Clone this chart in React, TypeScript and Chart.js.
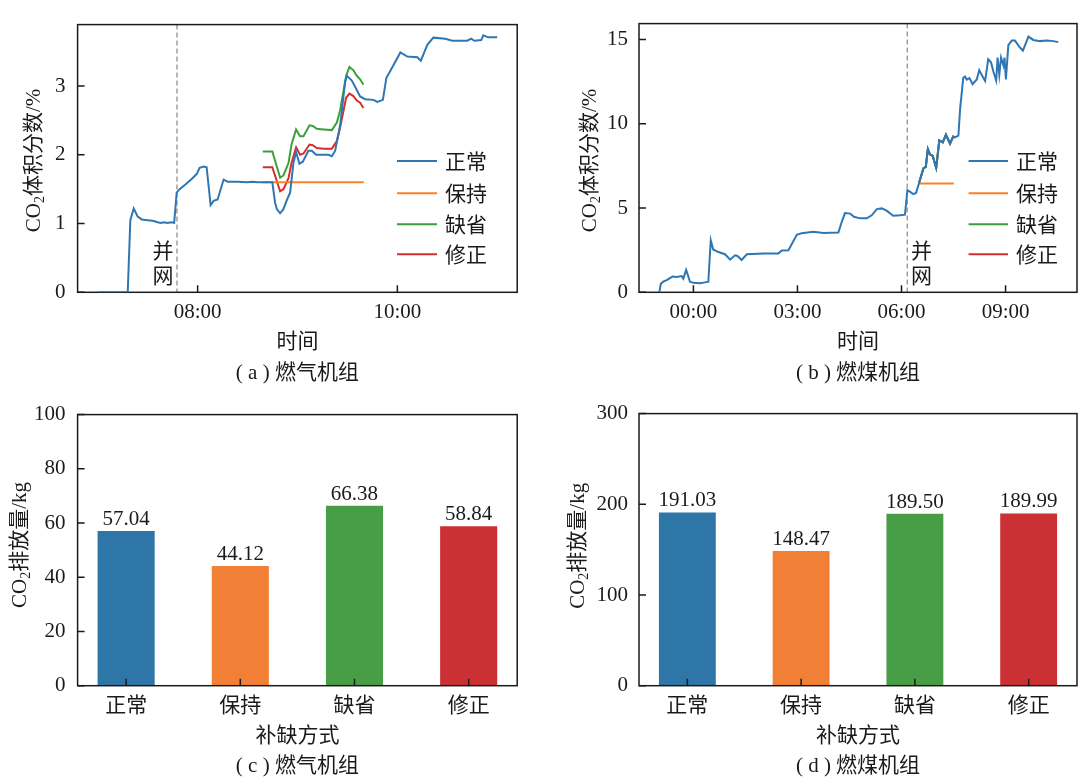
import React, { useEffect, useRef } from "react";
import { Chart, registerables } from "chart.js";

Chart.register(...registerables);

const FONT = '"Liberation Serif", "Times New Roman", "Noto Sans CJK SC", serif';
const INK = "#1a1a1a";
const FS = 21;

// Gap-filling methods shared by all four panels
const methods = ["正常", "保持", "缺省", "修正"];
const lineColors = ["#2f77b4", "#fd8023", "#3ba03a", "#d42f2e"];
const barColors = ["#2e75a8", "#f17f35", "#489e47", "#cb3035"];

// (a) gas-fired unit: CO2 volume fraction (%), time in hours of day
const gasNormalT = [
  7.0, 7.3, 7.326, 7.36, 7.4, 7.44, 7.5, 7.55, 7.6, 7.63, 7.66, 7.7, 7.73, 7.765, 7.79, 7.82, 7.886, 7.94, 7.99,
  8.02, 8.06, 8.09, 8.13, 8.16, 8.2, 8.26, 8.3, 8.4, 8.5, 8.55, 8.6, 8.652, 8.748, 8.776, 8.793, 8.826, 8.859,
  8.893, 8.926, 8.959, 8.986, 9.019, 9.053, 9.109, 9.143, 9.186, 9.31, 9.344, 9.377, 9.427, 9.477, 9.494, 9.544,
  9.577, 9.627, 9.677, 9.76, 9.8, 9.855, 9.89, 9.94, 10.03, 10.1, 10.2, 10.235, 10.3, 10.36, 10.48, 10.55, 10.7,
  10.74, 10.77, 10.84, 10.86, 10.91, 11.0,
];
const gasNormalV = [
  0, 0, 1.05, 1.22, 1.1, 1.06, 1.05, 1.04, 1.02, 1.01, 1.02, 1.01, 1.02, 1.01, 1.45, 1.5, 1.58, 1.65, 1.72,
  1.81, 1.83, 1.82, 1.27, 1.33, 1.35, 1.64, 1.61, 1.61, 1.6, 1.61, 1.6, 1.6, 1.6, 1.3, 1.21, 1.15, 1.21,
  1.34, 1.45, 1.88, 2.04, 1.87, 1.9, 2.06, 2.06, 2.0, 2.0, 1.98, 2.06, 2.43, 3.06, 3.15, 3.08,
  2.99, 2.85, 2.81, 2.8, 2.77, 2.8, 3.12, 3.25, 3.49, 3.43, 3.42, 3.37, 3.6, 3.705, 3.69, 3.66, 3.66,
  3.69, 3.66, 3.67, 3.74, 3.71, 3.71,
];
const gasHoldT = [8.652, 9.664];
const gasHoldV = [1.6, 1.6];
const gasPatchT = [
  8.652, 8.748, 8.826, 8.859, 8.91, 8.94, 8.986, 9.026, 9.06, 9.12, 9.153, 9.193, 9.26, 9.344, 9.394, 9.427,
  9.487, 9.52, 9.56, 9.594, 9.627, 9.66,
];
const gasDefaultV = [
  2.05, 2.05, 1.667, 1.7, 1.88, 2.15, 2.37, 2.27, 2.27, 2.43, 2.42, 2.38, 2.37, 2.36, 2.47, 2.65,
  3.15, 3.28, 3.23, 3.15, 3.1, 3.02,
];
const gasFixedV = [
  1.82, 1.82, 1.47, 1.5, 1.66, 1.88, 2.11, 2.0, 2.02, 2.15, 2.14, 2.1, 2.09, 2.09, 2.2, 2.4,
  2.83, 2.89, 2.855, 2.79, 2.76, 2.68,
];
const gasGridHour = 7.793;
const gasTimeTicks = [8, 10];
const gasTimeLabels = ["08:00", "10:00"];
const gasYTicks = [0, 1, 2, 3];

// (b) coal-fired unit: CO2 volume fraction (%), hours relative to midnight
const coalNormalT = [
  -0.983, -0.94, -0.87, -0.77, -0.69, -0.6, -0.48, -0.34, -0.29, -0.21,
  -0.18, -0.1, 0.0, 0.19, 0.33, 0.43, 0.5, 0.57, 0.72, 0.91,
  1.06, 1.2, 1.27, 1.39, 1.54, 2.02, 2.45, 2.55, 2.74, 2.98,
  3.12, 3.46, 3.75, 4.18, 4.28, 4.37, 4.52, 4.63, 4.8, 5.0,
  5.14, 5.29, 5.43, 5.57, 5.76, 5.96, 6.1, 6.17, 6.25, 6.34,
  6.42, 6.51, 6.63, 6.7, 6.76, 6.82, 6.9, 7.0, 7.09, 7.19,
  7.28, 7.4, 7.49, 7.54, 7.64, 7.69, 7.73, 7.78, 7.83, 7.88,
  7.96, 8.05, 8.17, 8.24, 8.31, 8.41, 8.5, 8.58, 8.65, 8.73,
  8.77, 8.82, 8.87, 8.94, 8.97, 9.01, 9.08, 9.18, 9.27, 9.4,
  9.5, 9.66, 9.8, 9.99, 10.19, 10.38, 10.52,
];
const coalNormalV = [
  0, 0.5, 0.63, 0.72, 0.83, 0.94, 0.91, 0.96, 0.81, 1.33,
  1.15, 0.63, 0.56, 0.54, 0.59, 0.63, 3.09, 2.54, 2.39, 2.26,
  1.94, 2.2, 2.16, 1.92, 2.26, 2.31, 2.31, 2.48, 2.5, 3.41,
  3.5, 3.59, 3.52, 3.55, 4.2, 4.7, 4.67, 4.48, 4.39, 4.39,
  4.57, 4.94, 4.98, 4.85, 4.54, 4.57, 4.61, 6.06, 5.96, 5.83,
  5.9, 6.52, 7.35, 7.44, 8.5, 8.19, 8.09, 7.39, 9.02, 8.9,
  9.35, 8.83, 9.24, 9.2, 9.3, 10.9, 11.7, 12.72, 12.81, 12.63,
  12.72, 12.35, 12.63, 13.18, 12.91, 12.54, 13.83, 13.65, 13.09, 12.57,
  13.93, 12.91, 13.93, 13.46, 13.93, 12.63, 14.67, 14.94, 14.94, 14.57,
  14.35, 15.18, 14.98, 14.91, 14.94, 14.91, 14.85,
];
const coalHoldT = [6.51, 7.51];
const coalHoldV = [6.46, 6.46];
const coalPatchT = [6.51, 6.63, 6.7, 6.76, 6.82, 6.9, 7.0, 7.09, 7.19, 7.28, 7.4, 7.49, 7.54];
const coalDefaultV = [6.52, 7.35, 7.44, 8.5, 8.19, 8.09, 7.39, 9.02, 8.9, 9.35, 8.83, 9.24, 9.2];
const coalFixedV = [6.52, 7.35, 7.44, 8.5, 8.19, 8.09, 7.39, 9.02, 8.9, 9.35, 8.83, 9.24, 9.2];
const coalGridHour = 6.165;
const coalTimeTicks = [0, 3, 6, 9];
const coalTimeLabels = ["00:00", "03:00", "06:00", "09:00"];
const coalYTicks = [0, 5, 10, 15];

// (c), (d) total CO2 emission (kg) per gap-filling method
const gasEmission = [57.04, 44.12, 66.38, 58.84];
const coalEmission = [191.03, 148.47, 189.5, 189.99];
const gasEmissionTicks = [0, 20, 40, 60, 80, 100];
const coalEmissionTicks = [0, 100, 200, 300];

type Area = { l: number; t: number; r: number; b: number };
type Spec = {
  width: number;
  height: number;
  area: Area;
  yTitle: string;
  yTitleAt: [number, number];
  xTitle: string;
  xTitleY: number;
  caption: string;
  captionY: number;
  yPad: number;
  xPad: number;
  frameOnTop?: boolean;
  legend?: { x: number; len: number; textX: number; ys: number[] };
  marker?: { hour: number; textX: number; ys: number[] };
  barValues?: number[];
};

function drawYTitle(ctx: CanvasRenderingContext2D, rest: string, cx: number, cy: number) {
  ctx.save();
  ctx.translate(cx, cy);
  ctx.rotate(-Math.PI / 2);
  const big = `${FS}px ${FONT}`;
  const small = `14px ${FONT}`;
  ctx.font = big;
  const w1 = ctx.measureText("CO").width;
  const w3 = ctx.measureText(rest).width;
  ctx.font = small;
  const w2 = ctx.measureText("2").width;
  let x = -(w1 + w2 + w3) / 2;
  ctx.fillStyle = INK;
  ctx.textAlign = "left";
  ctx.textBaseline = "middle";
  ctx.font = big;
  ctx.fillText("CO", x, 0);
  x += w1;
  ctx.font = small;
  ctx.fillText("2", x, 6);
  x += w2;
  ctx.font = big;
  ctx.fillText(rest, x, 0);
  ctx.restore();
}

function decoPlugin(spec: Spec) {
  const drawFrame = (chart: any) => {
    const { ctx, chartArea: a } = chart;
    ctx.save();
    ctx.strokeStyle = INK;
    ctx.lineWidth = 1.5;
    ctx.strokeRect(a.left, a.top, a.right - a.left, a.bottom - a.top);
    ctx.restore();
  };
  return {
    id: "deco",
    beforeDatasetsDraw(chart: any) {
      const { ctx, chartArea: a, scales } = chart;
      if (spec.marker) {
        const x = scales.x.getPixelForValue(spec.marker.hour);
        ctx.save();
        ctx.strokeStyle = "#9a9a9a";
        ctx.lineWidth = 1.4;
        ctx.setLineDash([5, 3]);
        ctx.beginPath();
        ctx.moveTo(x, a.top);
        ctx.lineTo(x, a.bottom);
        ctx.stroke();
        ctx.restore();
      }
      if (!spec.frameOnTop) drawFrame(chart);
    },
    afterDatasetsDraw(chart: any) {
      const { ctx, chartArea: a, scales } = chart;
      if (spec.frameOnTop) drawFrame(chart);
      ctx.save();
      ctx.strokeStyle = INK;
      ctx.lineWidth = 1.5;
      ctx.beginPath();
      for (const t of scales.x.ticks) {
        const x = scales.x.getPixelForValue(t.value);
        ctx.moveTo(x, a.bottom);
        ctx.lineTo(x, a.bottom - 7);
      }
      for (const t of scales.y.ticks) {
        const y = scales.y.getPixelForValue(t.value);
        ctx.moveTo(a.left, y);
        ctx.lineTo(a.left + 7, y);
      }
      ctx.stroke();
      if (spec.barValues) {
        const meta = chart.getDatasetMeta(0);
        ctx.fillStyle = INK;
        ctx.font = `${FS}px ${FONT}`;
        ctx.textAlign = "center";
        ctx.textBaseline = "alphabetic";
        spec.barValues.forEach((v, i) => {
          const el = meta.data[i];
          ctx.fillText(v.toFixed(2), el.x, el.y - 6);
        });
      }
      ctx.restore();
    },
    afterDraw(chart: any) {
      const { ctx, chartArea: a } = chart;
      const cx = (a.left + a.right) / 2;
      drawYTitle(ctx, spec.yTitle, spec.yTitleAt[0], spec.yTitleAt[1]);
      ctx.save();
      ctx.fillStyle = INK;
      ctx.font = `${FS}px ${FONT}`;
      ctx.textAlign = "center";
      ctx.textBaseline = "middle";
      ctx.fillText(spec.xTitle, cx, spec.xTitleY);
      ctx.fillText(spec.caption, cx, spec.captionY);
      if (spec.marker) {
        ctx.fillText("并", spec.marker.textX, spec.marker.ys[0]);
        ctx.fillText("网", spec.marker.textX, spec.marker.ys[1]);
      }
      if (spec.legend) {
        const lg = spec.legend;
        methods.forEach((name, i) => {
          const y = lg.ys[i];
          ctx.strokeStyle = lineColors[i];
          ctx.lineWidth = 2;
          ctx.beginPath();
          ctx.moveTo(lg.x, y);
          ctx.lineTo(lg.x + lg.len, y);
          ctx.stroke();
          ctx.textAlign = "left";
          ctx.fillText(name, lg.textX, y + 2);
        });
      }
      ctx.restore();
    },
  };
}

function xAxis(spec: Spec, min: number, max: number, ticks: number[], labels: string[]) {
  return {
    type: "linear",
    min,
    max,
    offset: false,
    grid: { display: false, drawTicks: false },
    border: { display: false },
    ticks: {
      font: { family: FONT, size: FS },
      color: INK,
      padding: spec.xPad,
      autoSkip: false,
      maxRotation: 0,
      callback: (_v: number, i: number) => labels[i],
    },
    afterBuildTicks: (s: any) => {
      s.ticks = ticks.map((value) => ({ value }));
    },
    afterFit: (s: any) => {
      s.height = spec.height - spec.area.b;
    },
  };
}

function yAxis(spec: Spec, max: number, ticks: number[]) {
  return {
    type: "linear",
    min: 0,
    max,
    grid: { display: false, drawTicks: false },
    border: { display: false },
    ticks: {
      font: { family: FONT, size: FS },
      color: INK,
      padding: spec.yPad,
      callback: (v: number) => String(v),
    },
    afterBuildTicks: (s: any) => {
      s.ticks = ticks.map((value) => ({ value }));
    },
    afterFit: (s: any) => {
      s.width = spec.area.l;
    },
  };
}

function baseOptions(spec: Spec, x: any, y: any) {
  return {
    responsive: false,
    animation: false,
    devicePixelRatio: 1,
    events: [],
    layout: { padding: { left: 0, top: spec.area.t, right: spec.width - spec.area.r, bottom: 0 } },
    plugins: { legend: { display: false }, tooltip: { enabled: false } },
    scales: { x, y },
  };
}

function series(t: number[], v: number[], color: string, width = 2) {
  return {
    data: t.map((x, i) => ({ x, y: v[i] })),
    borderColor: color,
    backgroundColor: color,
    borderWidth: width,
    pointRadius: 0,
    tension: 0,
    fill: false,
  };
}

const specA: Spec = {
  width: 540,
  height: 390,
  area: { l: 77.6, t: 5, r: 517.2, b: 292.3 },
  yTitle: "体积分数/%",
  yTitleAt: [34.5, 160.5],
  xTitle: "时间",
  xTitleY: 342,
  caption: "( a ) 燃气机组",
  captionY: 373,
  yPad: 12,
  xPad: 8,
  legend: { x: 397, len: 40, textX: 445, ys: [161, 193.3, 224.3, 254.3] },
  marker: { hour: gasGridHour, textX: 163, ys: [252.5, 277.7] },
};

const specB: Spec = {
  width: 541,
  height: 390,
  area: { l: 99, t: 5, r: 537, b: 292.3 },
  yTitle: "体积分数/%",
  yTitleAt: [50, 160.5],
  xTitle: "时间",
  xTitleY: 342,
  caption: "( b ) 燃煤机组",
  captionY: 373,
  yPad: 11,
  xPad: 8,
  legend: { x: 428.6, len: 39.4, textX: 476, ys: [161, 193.3, 224.3, 254.3] },
  marker: { hour: coalGridHour, textX: 381.5, ys: [252.5, 277.7] },
};

const specC: Spec = {
  width: 540,
  height: 389,
  area: { l: 77.6, t: 8.3, r: 517.2, b: 295.7 },
  yTitle: "排放量/kg",
  yTitleAt: [20.7, 155],
  xTitle: "补缺方式",
  xTitleY: 346,
  caption: "( c ) 燃气机组",
  captionY: 376.7,
  yPad: 12,
  xPad: 8,
  frameOnTop: true,
  barValues: gasEmission,
};

const specD: Spec = {
  width: 541,
  height: 389,
  area: { l: 99, t: 8.3, r: 537, b: 295.7 },
  yTitle: "排放量/kg",
  yTitleAt: [38.8, 155.8],
  xTitle: "补缺方式",
  xTitleY: 346,
  caption: "( d ) 燃煤机组",
  captionY: 376.7,
  yPad: 11,
  xPad: 8,
  frameOnTop: true,
  barValues: coalEmission,
};

function lineConfig(
  spec: Spec,
  normal: [number[], number[]],
  hold: [number[], number[]],
  patchT: number[],
  defV: number[],
  fixV: number[],
  xRange: [number, number],
  xTicks: number[],
  xLabels: string[],
  yMax: number,
  yTicks: number[],
) {
  return {
    type: "line",
    data: {
      datasets: [
        series(normal[0], normal[1], lineColors[0]),
        series(hold[0], hold[1], lineColors[1]),
        series(patchT, defV, lineColors[2]),
        series(patchT, fixV, lineColors[3]),
      ],
    },
    options: baseOptions(spec, xAxis(spec, xRange[0], xRange[1], xTicks, xLabels), yAxis(spec, yMax, yTicks)),
    plugins: [decoPlugin(spec)],
  };
}

function barConfig(spec: Spec, values: number[], yMax: number, yTicks: number[]) {
  return {
    type: "bar",
    data: {
      datasets: [
        {
          data: values.map((y, x) => ({ x, y })),
          backgroundColor: barColors,
          borderWidth: 0,
          barPercentage: 0.5,
          categoryPercentage: 1,
        },
      ],
    },
    options: baseOptions(
      spec,
      xAxis(spec, -0.425, 3.425, methods.map((_, i) => i), methods),
      yAxis(spec, yMax, yTicks),
    ),
    plugins: [decoPlugin(spec)],
  };
}

function Panel({ left, top, spec, build }: { left: number; top: number; spec: Spec; build: () => any }) {
  const ref = useRef<HTMLCanvasElement>(null);
  useEffect(() => {
    const chart = new Chart(ref.current as HTMLCanvasElement, build());
    return () => chart.destroy();
  }, []);
  return (
    <canvas
      ref={ref}
      width={spec.width}
      height={spec.height}
      style={{ position: "absolute", left, top, width: spec.width, height: spec.height }}
    />
  );
}

export default function App() {
  return (
    <div style={{ position: "absolute", left: 0, top: 0, width: 1081, height: 779, background: "#fff" }}>
      <Panel
        left={0}
        top={0}
        spec={specA}
        build={() =>
          lineConfig(
            specA,
            [gasNormalT, gasNormalV],
            [gasHoldT, gasHoldV],
            gasPatchT,
            gasDefaultV,
            gasFixedV,
            [6.798, 11.2],
            gasTimeTicks,
            gasTimeLabels,
            3.895,
            gasYTicks,
          )
        }
      />
      <Panel
        left={540}
        top={0}
        spec={specB}
        build={() =>
          lineConfig(
            specB,
            [coalNormalT, coalNormalV],
            [coalHoldT, coalHoldV],
            coalPatchT,
            coalDefaultV,
            coalFixedV,
            [-1.569, 11.06],
            coalTimeTicks,
            coalTimeLabels,
            15.95,
            coalYTicks,
          )
        }
      />
      <Panel left={0} top={390} spec={specC} build={() => barConfig(specC, gasEmission, 100, gasEmissionTicks)} />
      <Panel left={540} top={390} spec={specD} build={() => barConfig(specD, coalEmission, 300, coalEmissionTicks)} />
    </div>
  );
}
